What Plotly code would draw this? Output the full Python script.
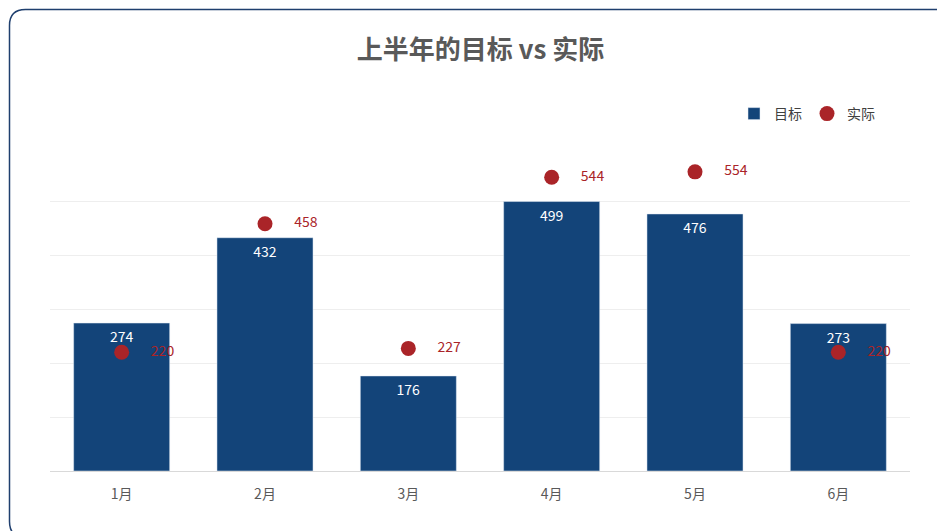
import plotly.graph_objects as go

months = ["1月", "2月", "3月", "4月", "5月", "6月"]
target = [274, 432, 176, 499, 476, 273]
actual = [220, 458, 227, 544, 554, 220]

W, H = 945, 531
L, R, T, B = 42, 43, 139, 68
pw, ph = W - L - R, H - T - B

def px(x):
    return (x - L) / pw

def py(y):
    return (H - B - y) / ph

fig = go.Figure()
fig.add_trace(go.Bar(
    x=months, y=target, name="目标", marker_color="#134479",
    text=target, textposition="inside", insidetextanchor="end",
    textfont=dict(color="white", size=14),
))
fig.add_trace(go.Scatter(
    x=months, y=actual, name="实际", mode="markers+text",
    marker=dict(color="#aa2428", size=15),
    text=[f"      {v}" for v in actual], textposition="middle right",
    textfont=dict(color="#aa2428", size=14),
))

# rounded border around the whole figure
r = 16
x0, x1, y0, y1 = 1.5, W - 1.5, 1.5, H - 1.5
pts = f"M {px(x0 + r)},{py(y0)} L {px(x1 - r)},{py(y0)} Q {px(x1)},{py(y0)} {px(x1)},{py(y0 + r)} " \
      f"L {px(x1)},{py(y1 - r)} Q {px(x1)},{py(y1)} {px(x1 - r)},{py(y1)} " \
      f"L {px(x0 + r)},{py(y1)} Q {px(x0)},{py(y1)} {px(x0)},{py(y1 - r)} " \
      f"L {px(x0)},{py(y0 + r)} Q {px(x0)},{py(y0)} {px(x0 + r)},{py(y0)} Z"
fig.add_shape(type="path", path=pts, xref="paper", yref="paper",
              line=dict(color="#1f3f6e", width=1.5))

fig.update_layout(
    width=W, height=H,
    margin=dict(l=L, r=R, t=T, b=B),
    paper_bgcolor="white", plot_bgcolor="white",
    font=dict(family="Noto Sans CJK SC", color="#595959"),
    title=dict(text="<b>上半年的目标 vs 实际</b>", x=0.5, xanchor="center",
               y=1 - 42 / H, yanchor="middle", font=dict(size=26, color="#595959")),
    bargap=0.33,
    showlegend=True,
    legend=dict(orientation="h", x=1 - 30 / pw, xanchor="right", y=1 + 33 / ph,
                yanchor="middle", font=dict(size=14, color="#404040"),
                itemwidth=30),
    xaxis=dict(showline=True, linecolor="#d9d9d9", tickfont=dict(size=14, color="#595959"),
               ticks="", ticklabelstandoff=10),
    yaxis=dict(range=[0, 600], dtick=100, showticklabels=False,
               gridcolor="#eeeeee", zeroline=False),
)

fig.write_html("out.html")
